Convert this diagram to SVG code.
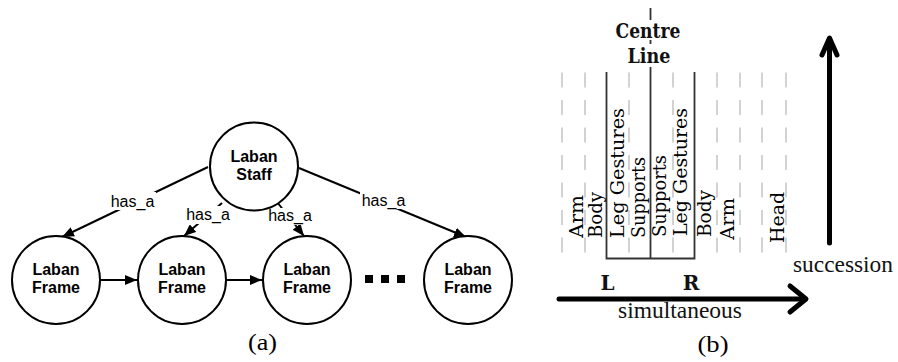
<svg xmlns="http://www.w3.org/2000/svg" width="898" height="362" viewBox="0 0 898 362">
<style>
.node circle{fill:#fff;stroke:#000;stroke-width:2}
.nl{font-family:"Liberation Sans",Arial,sans-serif;font-weight:bold;font-size:16px;text-anchor:middle;fill:#000}
.el{font-family:"Liberation Sans",Arial,sans-serif;font-size:16px;text-anchor:middle;fill:#000}
.edge{stroke:#000;stroke-width:2;fill:none}
.lbg{fill:#fff}
.dash{stroke:#c8c8c8;stroke-width:1.6;stroke-dasharray:15 12.5}
.solid{stroke:#333;stroke-width:1.8;fill:none}
.rl{font-family:"DejaVu Serif","Liberation Serif",serif;font-size:19px;fill:#000}
.cl{font-family:"DejaVu Serif","Liberation Serif",serif;font-weight:bold;font-size:20px;text-anchor:middle;fill:#111}
.tx{font-family:"Liberation Serif","Times New Roman",serif;font-size:23px;fill:#111}
.cap{font-family:"Liberation Serif","Times New Roman",serif;font-size:23px;text-anchor:middle;fill:#000}
.big{stroke:#000;stroke-width:5;stroke-linecap:round;stroke-linejoin:round;fill:none}
</style>
<defs>
<marker id="arr" viewBox="0 0 12 10" refX="12" refY="5" markerWidth="12" markerHeight="10" markerUnits="userSpaceOnUse" orient="auto">
<path d="M0,0 L12,5 L0,10 Z" fill="#000"/>
</marker>
</defs>
<rect width="898" height="362" fill="#fff"/>

<!-- (a) connectors -->
<g id="connectors">
<line class="edge" x1="208" y1="167" x2="62" y2="237" marker-end="url(#arr)"/>
<line class="edge" x1="222" y1="203" x2="184" y2="236" marker-end="url(#arr)"/>
<line class="edge" x1="277" y1="202" x2="304" y2="236" marker-end="url(#arr)"/>
<line class="edge" x1="299" y1="168" x2="466" y2="237" marker-end="url(#arr)"/>
<line class="edge" x1="100" y1="280" x2="137" y2="280" marker-end="url(#arr)"/>
<line class="edge" x1="226" y1="280" x2="262" y2="280" marker-end="url(#arr)"/>
<rect class="lbg" x="109" y="192" width="47" height="18"/>
<text class="el" x="132.5" y="207">has_a</text>
<rect class="lbg" x="185" y="206" width="47" height="18"/>
<text class="el" x="208" y="219.5">has_a</text>
<rect class="lbg" x="267" y="208" width="47" height="17"/>
<text class="el" x="290" y="221">has_a</text>
<rect class="lbg" x="360" y="191" width="47" height="18"/>
<text class="el" x="383.5" y="206">has_a</text>
</g>

<g id="staff" class="node">
<circle cx="254" cy="166.5" r="44"/>
<text class="nl" x="254" y="162">Laban</text>
<text class="nl" x="254" y="180">Staff</text>
</g>
<g id="frame1" class="node">
<circle cx="56" cy="280" r="44"/>
<text class="nl" x="56" y="275">Laban</text>
<text class="nl" x="56" y="293">Frame</text>
</g>
<g id="frame2" class="node">
<circle cx="182" cy="280" r="44"/>
<text class="nl" x="182" y="275">Laban</text>
<text class="nl" x="182" y="293">Frame</text>
</g>
<g id="frame3" class="node">
<circle cx="307" cy="280" r="44"/>
<text class="nl" x="307" y="275">Laban</text>
<text class="nl" x="307" y="293">Frame</text>
</g>
<g id="frame4" class="node">
<circle cx="468" cy="280" r="44"/>
<text class="nl" x="468" y="275">Laban</text>
<text class="nl" x="468" y="293">Frame</text>
</g>
<g id="ellipsis" fill="#000">
<rect x="365" y="275" width="8" height="8"/>
<rect x="381" y="275" width="8" height="8"/>
<rect x="397" y="275" width="8" height="8"/>
</g>
<text class="cap" x="262.5" y="350" textLength="29" lengthAdjust="spacingAndGlyphs">(a)</text>

<!-- (b) staff layout -->
<g id="staff-columns">
<line class="dash" x1="562" y1="72.5" x2="562" y2="253"/>
<line class="dash" x1="585" y1="72.5" x2="585" y2="253"/>
<line class="dash" x1="629" y1="72.5" x2="629" y2="253"/>
<line class="dash" x1="673" y1="72.5" x2="673" y2="253"/>
<line class="dash" x1="717" y1="72.5" x2="717" y2="253"/>
<line class="dash" x1="740" y1="72.5" x2="740" y2="253"/>
<line class="dash" x1="762" y1="72.5" x2="762" y2="253"/>
<line class="dash" x1="786" y1="72.5" x2="786" y2="253"/>
<path class="solid" d="M606.5,72 V258.5 H694.5 V72"/>
<line class="solid" x1="650.5" y1="67" x2="650.5" y2="258.5"/>
<line class="solid" x1="650.5" y1="8" x2="650.5" y2="20"/>
<line class="solid" x1="650.5" y1="40" x2="650.5" y2="44"/>
</g>
<text class="cl" x="648" y="38" textLength="65" lengthAdjust="spacingAndGlyphs">Centre</text>
<text class="cl" x="649" y="63" textLength="43" lengthAdjust="spacingAndGlyphs">Line</text>

<g id="column-labels">
<text class="rl" transform="translate(583,238) rotate(-90)" textLength="43" lengthAdjust="spacingAndGlyphs">Arm</text>
<text class="rl" transform="translate(602,238) rotate(-90)" textLength="46" lengthAdjust="spacingAndGlyphs">Body</text>
<text class="rl" transform="translate(624,238) rotate(-90)" textLength="130" lengthAdjust="spacingAndGlyphs">Leg Gestures</text>
<text class="rl" transform="translate(645,238) rotate(-90)" textLength="81" lengthAdjust="spacingAndGlyphs">Supports</text>
<text class="rl" transform="translate(666,237) rotate(-90)" textLength="82" lengthAdjust="spacingAndGlyphs">Supports</text>
<text class="rl" transform="translate(687,236) rotate(-90)" textLength="128" lengthAdjust="spacingAndGlyphs">Leg Gestures</text>
<text class="rl" transform="translate(711,237) rotate(-90)" textLength="47" lengthAdjust="spacingAndGlyphs">Body</text>
<text class="rl" transform="translate(734,240) rotate(-90)" textLength="42" lengthAdjust="spacingAndGlyphs">Arm</text>
<text class="rl" transform="translate(784,243) rotate(-90)" textLength="51" lengthAdjust="spacingAndGlyphs">Head</text>
</g>

<text class="cl" x="607.5" y="290">L</text>
<text class="cl" x="691" y="290">R</text>

<g id="axes">
<line class="big" x1="559" y1="299" x2="805" y2="299"/>
<polyline class="big" points="790,286 806,299 790,312"/>
<line class="big" x1="829.5" y1="243" x2="829.5" y2="39"/>
<polyline class="big" points="822,55 829.5,38 837,55"/>
</g>
<text class="tx" x="618" y="318" textLength="124" lengthAdjust="spacingAndGlyphs">simultaneous</text>
<text class="tx" x="793" y="272" textLength="100" lengthAdjust="spacingAndGlyphs">succession</text>
<text class="cap" x="713" y="352" textLength="31" lengthAdjust="spacingAndGlyphs">(b)</text>
</svg>
